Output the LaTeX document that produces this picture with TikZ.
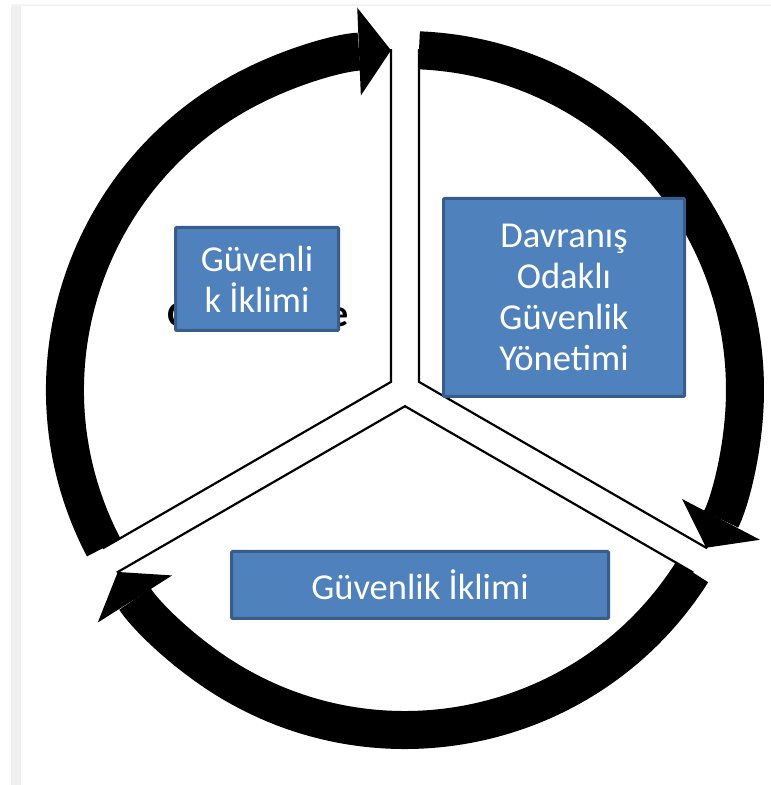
\documentclass[tikz,border=0pt]{standalone}
\usepackage{fontspec}
\setmainfont{Carlito}
\usepackage{xcolor}
\usepackage{tikz}
\usetikzlibrary{arrows.meta}
\usetikzlibrary{calc}

\definecolor{boxblue}{HTML}{4F81BD}
\definecolor{boxedge}{HTML}{385D8A}

\tikzset{
  sector/.style={draw=black, line width=2.2pt, fill=white},
  band/.style={line width=38pt, -{Triangle[length=32pt,width=88pt,line width=0pt]}},
  bluebox/.style={draw=boxedge, line width=3pt, fill=boxblue, text=white,
    align=center, inner sep=0pt, rounded corners=1pt,
    font=\fontsize{36.5}{41}\selectfont},
  hiddentext/.style={text=black, inner sep=0pt, font=\fontsize{38}{40}\selectfont\bfseries}
}

\begin{document}
\begin{tikzpicture}[x=1pt,y=1pt]
\useasboundingbox (0,0) rectangle (771,785);
\fill[black!6] (11,0) rectangle (21,781);
\fill[black!4] (11,779) rectangle (771,781);
\coordinate (O) at (405,395);
\begin{scope}[shift={(O)}]
		\def\Rm{340}
		\def\dd{2.36}
		\foreach \a in {90,210,330}
			\draw[sector] (\a+60:16.2) -- (\a+\dd:\Rm)
				arc[start angle=\a+\dd, end angle=\a+120-\dd, radius=\Rm] -- cycle;
		\foreach \a in {90,210,330}
			\draw[band] (\a+120-\dd:\Rm)
				arc[start angle=\a+120-\dd, end angle=\a+\dd, radius=\Rm];
\end{scope}
%\node (hid) behind the left box
\node[hiddentext] (hidG) at (180,470) {G};
\node[hiddentext] (hidE) at (339,468) {e};
\node[bluebox, minimum width=163pt, minimum height=103pt] (iklimL) at (257,506) {Güvenli\\k İklimi};
\node[bluebox, minimum width=241pt, minimum height=198pt] (davranis) at (564,487.5) {Davranış\\Odaklı\\Güvenlik\\Yönetimi};
\node[bluebox, minimum width=377pt, minimum height=67pt] (iklimB) at (420,200) {Güvenlik İklimi};
\end{tikzpicture}
\end{document}
